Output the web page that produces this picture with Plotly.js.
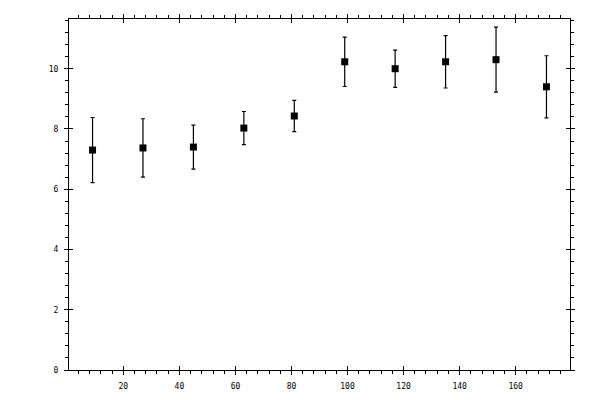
<!DOCTYPE html>
<html>
<head>
<meta charset="utf-8">
<script src="https://cdn.plot.ly/plotly-3.0.1.min.js"></script>
<style>
  html, body { margin: 0; padding: 0; background: #fff; }
  #graph { width: 600px; height: 400px; }
</style>
</head>
<body>
<div id="graph"></div>
<script>
/* ----- data ----- */
var xValues = [9, 27, 45, 63, 81, 99, 117, 135, 153, 171];
var yValues = [7.30, 7.37, 7.40, 8.03, 8.43, 10.23, 10.00, 10.23, 10.30, 9.40];
var yErrors = [1.08, 0.97, 0.73, 0.55, 0.52, 0.82, 0.62, 0.87, 1.08, 1.03];

var tickFont = { family: 'DejaVu Sans Mono, monospace', size: 8, color: '#000' };

var points = {
    x: xValues,
    y: yValues,
    type: 'scatter',
    mode: 'markers',
    marker: { symbol: 'square', size: 7, color: '#000' },
    error_y: {
        type: 'data',
        array: yErrors,
        visible: true,
        color: '#000',
        thickness: 1.2,
        width: 2
    },
    showlegend: false
};

// empty trace so the second (inside-tick) axes get drawn
var ghost = {
    x: [xValues[0]],
    y: [yValues[0]],
    xaxis: 'x2',
    yaxis: 'y2',
    mode: 'markers',
    marker: { opacity: 0 },
    hoverinfo: 'skip',
    showlegend: false
};

var xRange = [0.6, 179.4];
var yRange = [0, 11.65];

var layout = {
    width: 600,
    height: 400,
    margin: { l: 69, r: 30, t: 19, b: 30 },
    paper_bgcolor: '#fff',
    plot_bgcolor: '#fff',
    xaxis: {
        range: xRange,
        tick0: 0,
        dtick: 20,
        ticks: 'outside',
        ticklen: 4,
        tickwidth: 1,
        tickcolor: '#000',
        showline: true,
        linecolor: '#000',
        linewidth: 1,
        mirror: 'ticks',
        showgrid: false,
        zeroline: false,
        tickfont: tickFont,
        ticklabelstandoff: 4,
        minor: { dtick: 4, tick0: 0, ticks: 'outside', ticklen: 3, tickcolor: '#000', tickwidth: 1 }
    },
    yaxis: {
        range: yRange,
        tick0: 0,
        dtick: 2,
        ticks: 'outside',
        ticklen: 4,
        tickwidth: 1,
        tickcolor: '#000',
        showline: true,
        linecolor: '#000',
        linewidth: 1,
        mirror: 'ticks',
        showgrid: false,
        zeroline: false,
        tickfont: tickFont,
        ticklabelstandoff: 4,
        minor: { dtick: 0.4, tick0: 0, ticks: 'outside', ticklen: 3, tickcolor: '#000', tickwidth: 1 }
    },
    xaxis2: {
        overlaying: 'x',
        anchor: 'y',
        range: xRange,
        tick0: 0,
        dtick: 20,
        ticks: 'inside',
        ticklen: 4,
        tickwidth: 1,
        tickcolor: '#000',
        mirror: 'ticks',
        showline: false,
        showgrid: false,
        zeroline: false,
        showticklabels: false
    },
    yaxis2: {
        overlaying: 'y',
        anchor: 'x',
        range: yRange,
        tick0: 0,
        dtick: 2,
        ticks: 'inside',
        ticklen: 4,
        tickwidth: 1,
        tickcolor: '#000',
        mirror: 'ticks',
        showline: false,
        showgrid: false,
        zeroline: false,
        showticklabels: false
    }
};

Plotly.newPlot('graph', [points, ghost], layout, { staticPlot: true });
</script>
</body>
</html>
